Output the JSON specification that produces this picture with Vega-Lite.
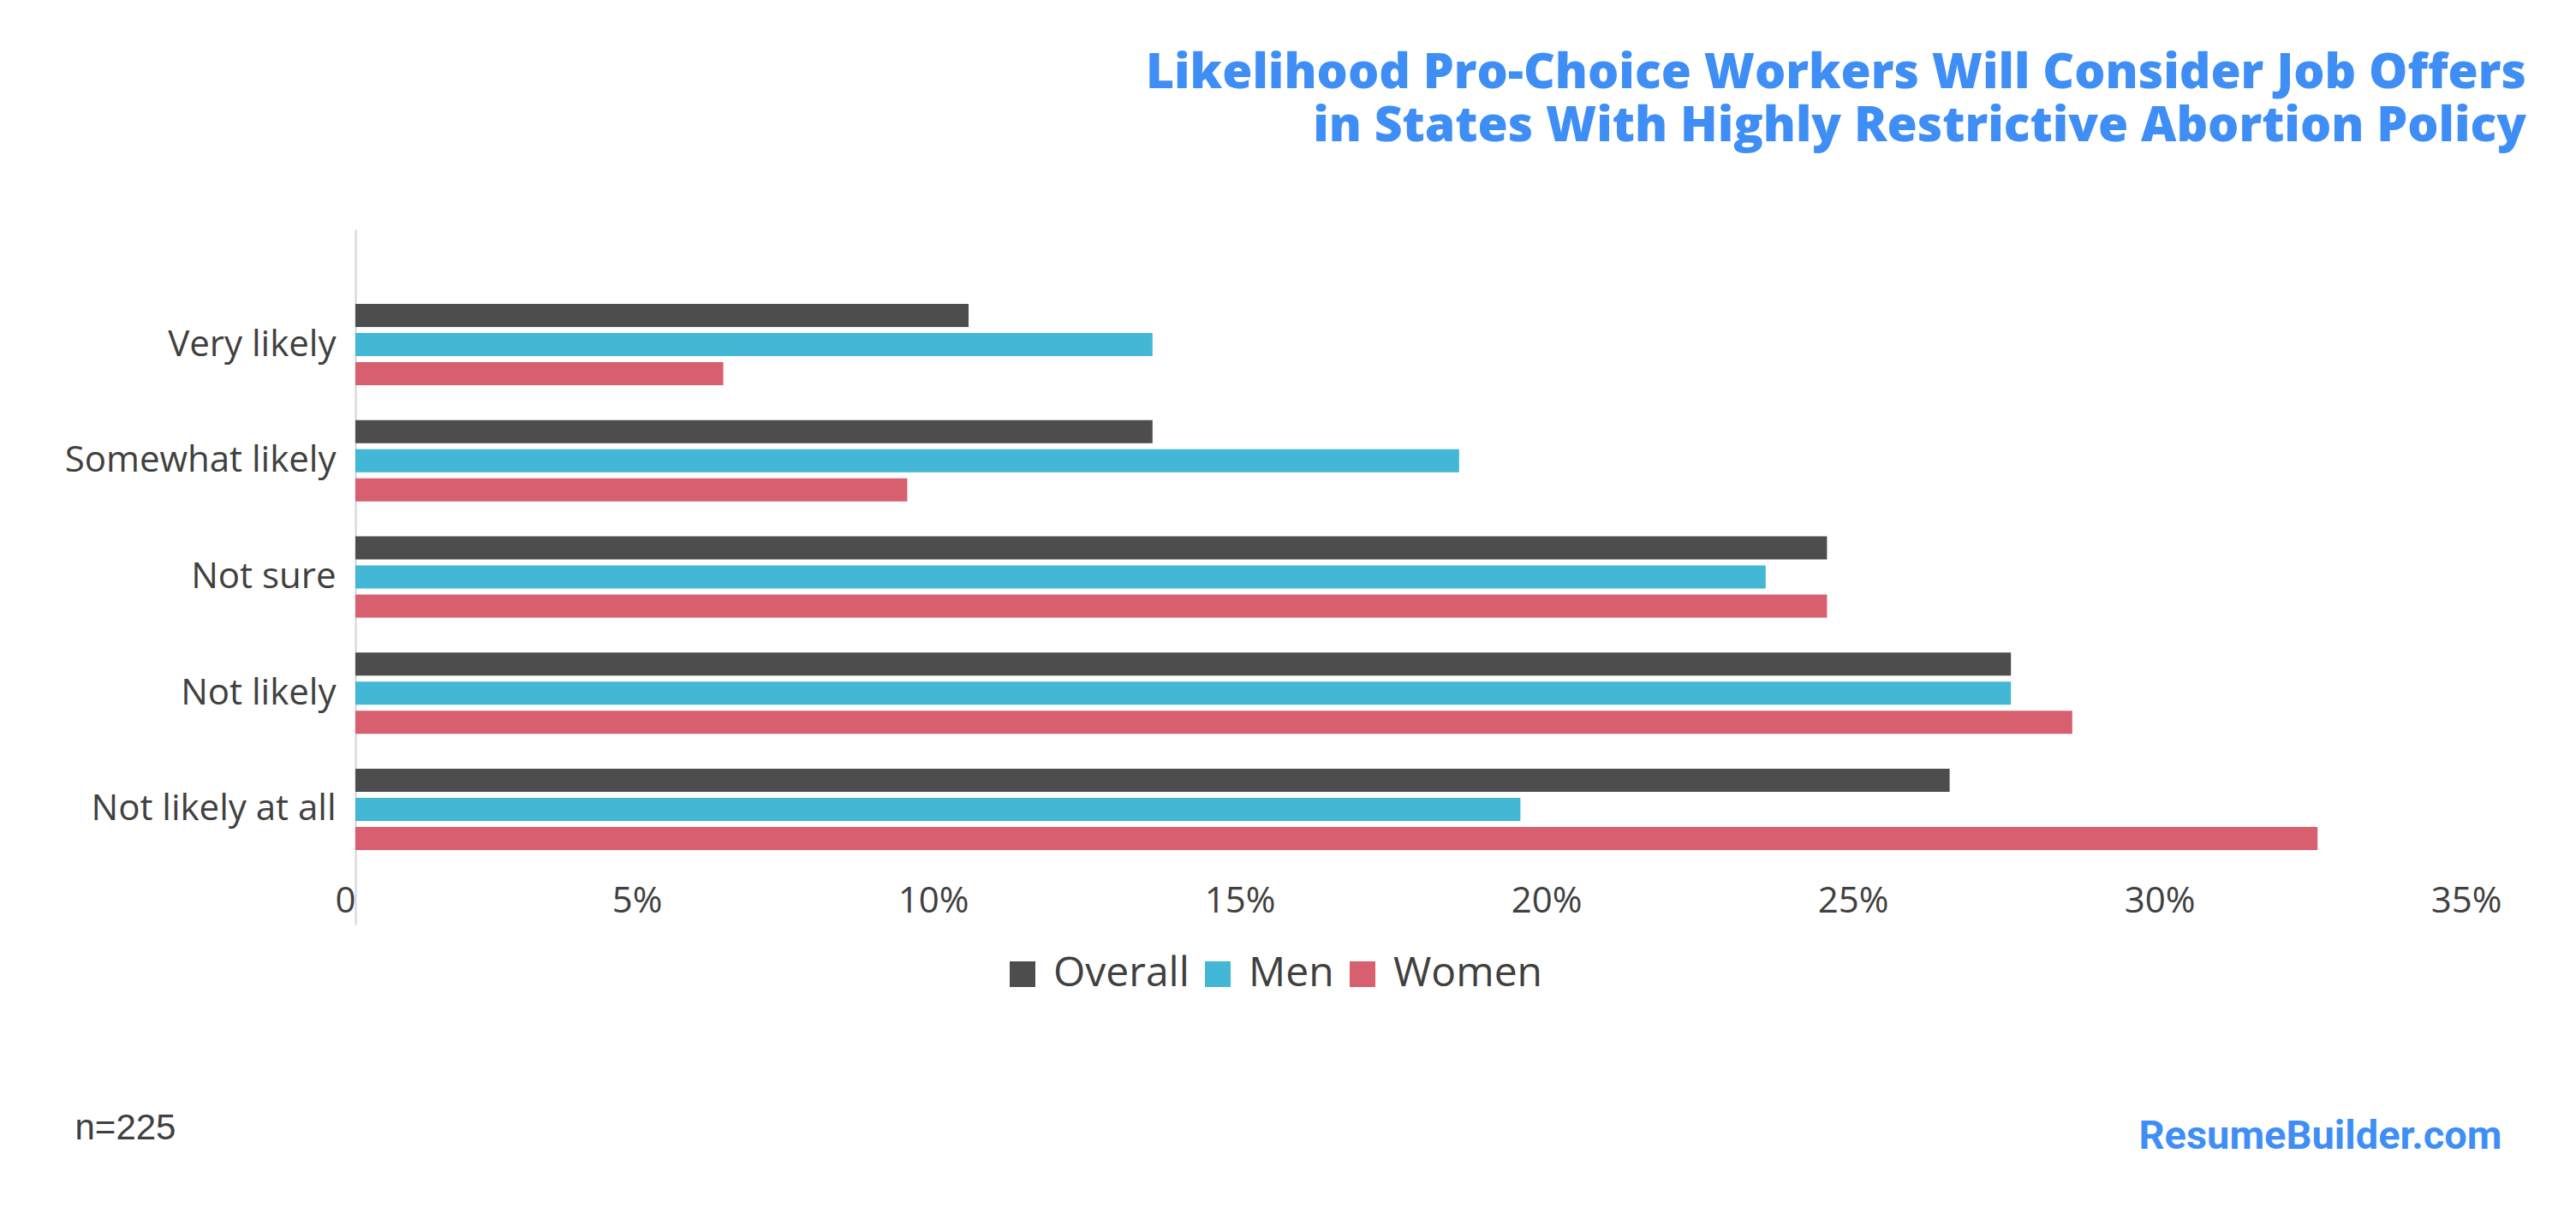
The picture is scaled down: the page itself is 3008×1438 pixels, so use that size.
{
  "$schema": "https://vega.github.io/schema/vega-lite/v6.json",
  "autosize": {"type": "none"},
  "width": 2506,
  "height": 812,
  "padding": {"left": 415, "top": 268, "right": 87, "bottom": 358},
  "background": "white",
  "title": {
    "text": ["Likelihood Pro-Choice Workers Will Consider Job Offers", "in States With Highly Restrictive Abortion Policy"],
    "anchor": "end",
    "frame": "group",
    "orient": "top",
    "align": "right",
    "baseline": "alphabetic",
    "dx": 29,
    "offset": 46,
    "lineHeight": 62,
    "font": "Open Sans",
    "fontSize": 57,
    "fontWeight": 800,
    "color": "#3F8EF5"
  },
  "data": {
    "values": [
      {"response": "Very likely", "group": "Overall", "percent": 10},
      {"response": "Very likely", "group": "Men", "percent": 13},
      {"response": "Very likely", "group": "Women", "percent": 6},
      {"response": "Somewhat likely", "group": "Overall", "percent": 13},
      {"response": "Somewhat likely", "group": "Men", "percent": 18},
      {"response": "Somewhat likely", "group": "Women", "percent": 9},
      {"response": "Not sure", "group": "Overall", "percent": 24},
      {"response": "Not sure", "group": "Men", "percent": 23},
      {"response": "Not sure", "group": "Women", "percent": 24},
      {"response": "Not likely", "group": "Overall", "percent": 27},
      {"response": "Not likely", "group": "Men", "percent": 27},
      {"response": "Not likely", "group": "Women", "percent": 28},
      {"response": "Not likely at all", "group": "Overall", "percent": 26},
      {"response": "Not likely at all", "group": "Men", "percent": 19},
      {"response": "Not likely at all", "group": "Women", "percent": 32}
    ]
  },
  "mark": {"type": "bar", "cornerRadius": 0},
  "encoding": {
    "y": {
      "field": "response",
      "type": "nominal",
      "sort": ["Very likely", "Somewhat likely", "Not sure", "Not likely", "Not likely at all"],
      "scale": {"paddingInner": 0.3, "paddingOuter": 0.642},
      "axis": {
        "title": "ResumeBuilder.com",
        "titleAngle": 0,
        "titleX": 2506,
        "titleY": 1073,
        "titleAlign": "right",
        "titleBaseline": "alphabetic",
        "titleFont": "Roboto",
        "titleFontSize": 47,
        "titleFontWeight": "bold",
        "titleColor": "#3F8EF5",
        "titleLimit": 0,
        "ticks": false,
        "grid": false,
        "labelPadding": 23,
        "labelLimit": 0,
        "labelFont": "Open Sans",
        "labelFontSize": 42,
        "labelColor": "#404040",
        "domainColor": "#D3D3D3",
        "domainWidth": 2
      }
    },
    "yOffset": {
      "field": "group",
      "type": "nominal",
      "sort": ["Overall", "Men", "Women"],
      "scale": {"paddingInner": 0.206, "paddingOuter": 0}
    },
    "x": {
      "field": "percent",
      "type": "quantitative",
      "scale": {"domain": [0, 35], "nice": false},
      "axis": {
        "values": [0, 5, 10, 15, 20, 25, 30, 35],
        "labelExpr": "datum.value == 0 ? '0' : datum.value + '%'",
        "domain": false,
        "ticks": false,
        "tickSize": 0,
        "grid": false,
        "labelAlign": "right",
        "labelBaseline": "middle",
        "labelDx": -18,
        "labelPadding": -28,
        "labelFont": "Open Sans",
        "labelFontSize": 42,
        "labelColor": "#404040",
        "labelFlush": false,
        "labelOverlap": false,
        "labelLimit": 0,
        "title": "n=225",
        "titleX": -328,
        "titleY": 250,
        "titleAlign": "left",
        "titleAnchor": "start",
        "titleBaseline": "alphabetic",
        "titleFont": "Liberation Sans",
        "titleFontSize": 42,
        "titleFontWeight": "normal",
        "titleColor": "#404040"
      }
    },
    "color": {
      "field": "group",
      "type": "nominal",
      "sort": ["Overall", "Men", "Women"],
      "scale": {"domain": ["Overall", "Men", "Women"], "range": ["#4D4D4D", "#42B7D6", "#D75F6E"]},
      "legend": {
        "title": null,
        "orient": "none",
        "legendX": 755,
        "legendY": 846,
        "direction": "horizontal",
        "symbolType": "square",
        "symbolSize": 900,
        "symbolStrokeWidth": 0,
        "labelFont": "Open Sans",
        "labelFontSize": 48,
        "labelColor": "#404040",
        "labelLimit": 0,
        "labelOffset": 12,
        "columnPadding": 9
      }
    }
  },
  "config": {"view": {"stroke": null}}
}
